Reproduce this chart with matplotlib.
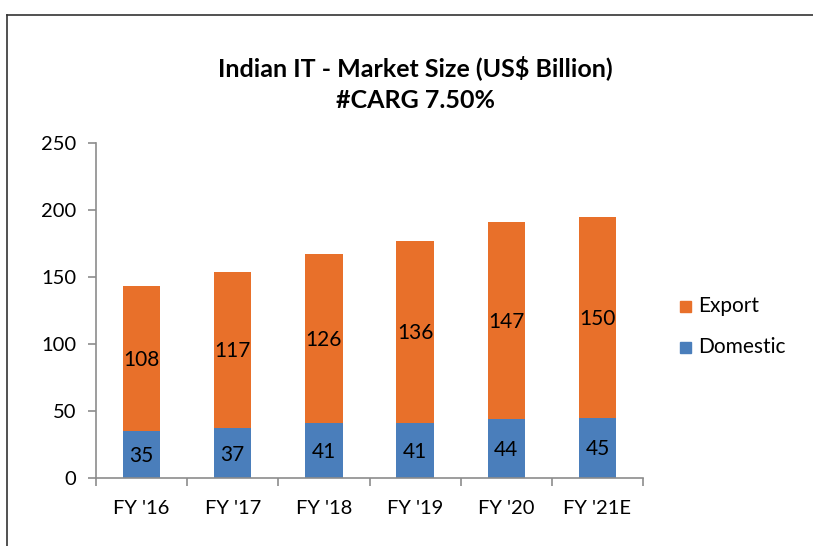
import numpy as np
import matplotlib
matplotlib.use("Agg")
import matplotlib.pyplot as plt
from matplotlib.patches import Rectangle
from matplotlib.lines import Line2D

# data
years = ["FY '16", "FY '17", "FY '18", "FY '19", "FY '20", "FY '21E"]
domestic = [35, 37, 41, 41, 44, 45]
export = [108, 117, 126, 136, 147, 150]

ORANGE = "#E8702A"
BLUE = "#4A7EBB"
GREY = "#8C8C8C"

plt.rcParams["font.family"] = ["Lato", "DejaVu Sans"]

W, H = 813, 546
fig = plt.figure(figsize=(W / 100, H / 100), dpi=100)

# outer frame (only top/left visible in reference)
fig.add_artist(Line2D([7 / W, 7 / W], [0, 1 - 15 / H], color="#333333", lw=1.2))
fig.add_artist(Line2D([7 / W, 1], [1 - 15 / H, 1 - 15 / H], color="#333333", lw=1.2))

x0, x1, y0, y1 = 96, 643, 478, 143
ax = fig.add_axes([x0 / W, 1 - y0 / H, (x1 - x0) / W, (y0 - y1) / H])

x = np.arange(len(years))
bw = 0.41
ax.bar(x, domestic, bw, color=BLUE, label="Domestic")
ax.bar(x, export, bw, bottom=domestic, color=ORANGE, label="Export")

for i in range(len(years)):
    ax.text(x[i], domestic[i] / 2 - 1, str(domestic[i]), ha="center", va="center", fontsize=15)
    ax.text(x[i], domestic[i] + export[i] / 2 - 1, str(export[i]), ha="center", va="center", fontsize=15)

ax.set_xlim(-0.5, len(years) - 0.5)
ax.set_ylim(0, 250)
ax.set_yticks(range(0, 251, 50))
ax.tick_params(axis="y", labelsize=14.5, length=6, color=GREY, width=1.2, pad=8)
ax.set_xticks(x)
ax.set_xticklabels(years)
ax.tick_params(axis="x", labelsize=14.5, length=0, pad=16)
ax.set_xticks(np.arange(-0.5, len(years)), minor=True)
ax.tick_params(axis="x", which="minor", length=6, color=GREY, width=1.2)
for s in ["top", "right"]:
    ax.spines[s].set_visible(False)
for s in ["left", "bottom"]:
    ax.spines[s].set_color(GREY)
    ax.spines[s].set_linewidth(1.2)

fig.text(415 / W, 1 - 68 / H, "Indian IT - Market Size (US$ Billion)", ha="center", va="center",
         fontsize=18, fontweight="bold")
fig.text(415 / W, 1 - 100 / H, "#CARG 7.50%", ha="center", va="center", fontsize=18, fontweight="bold")

# legend
for lab, col, yy in [("Export", ORANGE, 306), ("Domestic", BLUE, 347)]:
    fig.add_artist(Rectangle((680 / W, 1 - (yy + 6) / H), 11 / W, 11 / H, color=col))
    fig.text(698 / W, 1 - yy / H, lab, ha="left", va="center", fontsize=15)

fig.savefig("out.png", dpi=100)
